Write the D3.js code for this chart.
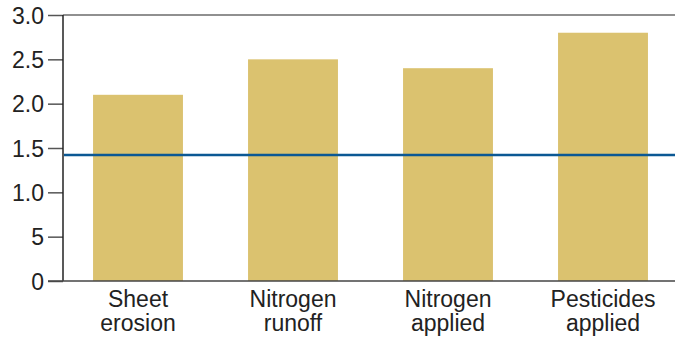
<!DOCTYPE html>
<html>
<head>
<meta charset="utf-8">
<script src="https://cdn.jsdelivr.net/npm/d3@7"></script>
<style>
  body { margin: 0; background: #fff; }
  svg { display: block; font-family: "Liberation Sans", Arial, sans-serif; }
</style>
</head>
<body>
<div id="chart"></div>
<script>
// data
let categories = [["Sheet", "erosion"], ["Nitrogen", "runoff"], ["Nitrogen", "applied"], ["Pesticides", "applied"]];
let values = [2.1, 2.5, 2.4, 2.8];
let referenceValue = 1.42;
let yTicks = [0, 0.5, 1.0, 1.5, 2.0, 2.5, 3.0];
let yTickLabels = ["0", "5", "1.0", "1.5", "2.0", "2.5", "3.0"];

let width = 675, height = 337;

let svg = d3.select("#chart").append("svg")
    .attr("width", width)
    .attr("height", height);

// scales
let y = d3.scaleLinear().domain([0, 3]).range([281, 15]);
let x = d3.scaleBand()
    .domain(d3.range(categories.length))
    .range([60.5, 680.5])
    .paddingInner(0.42)
    .paddingOuter(0.21);

// top rule at 3.0
svg.append("line")
    .attr("x1", 63).attr("x2", width)
    .attr("y1", y(3)).attr("y2", y(3))
    .attr("stroke", "#6b6b6b")
    .attr("stroke-width", 1.5);

// bars
svg.append("g").selectAll("rect")
    .data(values)
    .join("rect")
    .attr("x", (d, i) => x(i))
    .attr("y", d => y(d))
    .attr("width", x.bandwidth())
    .attr("height", d => y(0) - y(d))
    .attr("fill", "#dbc26f");

// y axis
let yAxis = svg.append("g")
    .attr("transform", "translate(63,0)")
    .call(d3.axisLeft(y).tickValues(yTicks).tickSize(15).tickPadding(4)
        .tickFormat((d, i) => yTickLabels[i]));
yAxis.select(".domain").remove();
yAxis.selectAll(".tick line").attr("stroke", "#555").attr("stroke-width", 1.5);
yAxis.selectAll(".tick text")
    .attr("fill", "#222")
    .style("font-size", "23px")
    .attr("dy", "0.36em");

svg.append("line")
    .attr("x1", 63).attr("x2", 63)
    .attr("y1", y(3)).attr("y2", y(0))
    .attr("stroke", "#222")
    .attr("stroke-width", 1.5);

// baseline
svg.append("line")
    .attr("x1", 48).attr("x2", width)
    .attr("y1", y(0)).attr("y2", y(0))
    .attr("stroke", "#444")
    .attr("stroke-width", 1.5);

// reference line
svg.append("line")
    .attr("x1", 64).attr("x2", width)
    .attr("y1", y(referenceValue)).attr("y2", y(referenceValue))
    .attr("stroke", "#0b5894")
    .attr("stroke-width", 2.5);

// category labels
let labels = svg.append("g").selectAll("text")
    .data(categories)
    .join("text")
    .attr("text-anchor", "middle")
    .attr("fill", "#222")
    .style("font-size", "23px")
    .attr("transform", (d, i) => `translate(${x(i) + x.bandwidth() / 2}, 307)`);
labels.selectAll("tspan")
    .data(d => d)
    .join("tspan")
    .attr("x", 0)
    .attr("dy", (d, i) => i === 0 ? 0 : 24)
    .text(d => d);
</script>
</body>
</html>
